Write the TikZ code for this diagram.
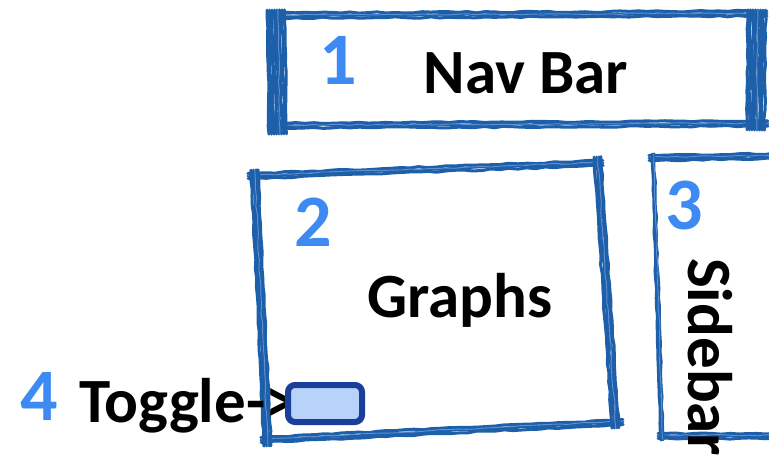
\documentclass[tikz,border=0pt]{standalone}
\usepackage{fontspec}
\setmainfont{Carlito}
\usetikzlibrary{calc,decorations.pathmorphing}

\definecolor{brushblue}{RGB}{30,95,170}
\definecolor{brushlight}{RGB}{95,145,210}
\definecolor{numblue}{RGB}{61,139,242}
\definecolor{togglefill}{RGB}{183,211,250}
\definecolor{toggleline}{RGB}{27,62,154}

\tikzset{
  brush/.style={draw=brushblue, line width=3pt, line cap=round,
    decorate, decoration={random steps, segment length=9pt, amplitude=0.7pt}},
  brushlite/.style={brush, draw=brushlight, line width=0.9pt},
  bigtext/.style={font=\bfseries\fontsize{63}{63}\selectfont, inner sep=0pt},
  numtext/.style={font=\bfseries\fontsize{74}{74}\selectfont, inner sep=0pt, text=numblue},
  lbl/.style={bigtext, text=black},
  togglebox/.style={draw=toggleline, fill=togglefill, line width=6pt,
    rounded corners=7pt, minimum width=74pt, minimum height=37pt, inner sep=0pt},
}

% one painted edge: several jittered strokes spread across the band
\newcommand\brushedge[3]{%
  \foreach \o in {#3}{%
    \draw[brush] ($(#1)!\o pt!90:(#2)$) -- ($(#2)!\o pt!-90:(#1)$);
  }%
  \draw[brushlite] ($(#1)!0.8pt!90:(#2)$) -- ($(#2)!0.8pt!-90:(#1)$);
}

\begin{document}
\begin{tikzpicture}[x=1pt, y=-1pt]
  \pgfmathsetseed{17}
  \useasboundingbox[fill=white] (0,0) rectangle (769,457);

  % nav bar frame
  \coordinate (navTL) at (277,16);
  \coordinate (navTR) at (757,14);
  \coordinate (navBR) at (756,124);
  \coordinate (navBL) at (279,126);
  \brushedge{$(navTL)+(-8,0)$}{$(navTR)+(10,0)$}{-2,0.5,3}
  \brushedge{$(navBL)+(-10,0)$}{$(navBR)+(12,0)$}{-2,0.5,3}
  \brushedge{$(navTL)+(0,-6)$}{$(navBL)+(0,8)$}{-10,-7.5,-5,-2.5,0,2.5,5,7.5}
  \brushedge{$(navTR)+(0,-4)$}{$(navBR)+(0,6)$}{-9,-6.5,-4,-1.5,1,3.5,6,8.5}

  % graphs frame
  \coordinate (grTL) at (254,176);
  \coordinate (grTR) at (597,163);
  \coordinate (grBR) at (615,422);
  \coordinate (grBL) at (267,440);
  \brushedge{$(grTL)+(-6,0)$}{$(grTR)+(6,0)$}{-2.5,0,2.5}
  \brushedge{$(grBL)+(-6,0)$}{$(grBR)+(8,0)$}{-2.5,0,2.5}
  \brushedge{$(grTL)+(0,-6)$}{$(grBL)+(0,6)$}{-3,-0.5,2,4}
  \brushedge{$(grTR)+(0,-6)$}{$(grBR)+(0,6)$}{-3,-0.5,2,4}

  % sidebar frame
  \coordinate (sbTL) at (653,158);
  \coordinate (sbTR) at (780,156);
  \coordinate (sbBR) at (780,436);
  \coordinate (sbBL) at (662,436);
  \brushedge{$(sbTL)+(-4,0)$}{sbTR}{-2.5,0,2.5}
  \brushedge{$(sbBL)+(-4,0)$}{sbBR}{-2.5,0,2.5}
  \brushedge{$(sbTL)+(0,-4)$}{$(sbBL)+(0,4)$}{-1,1}

  % numbers
  \node[numtext, anchor=base] (num1) at (338,85) {1};
  \node[numtext, anchor=base] (num2) at (313,247) {2};
  \node[numtext, anchor=base] (num3) at (684,230) {3};
  \node[numtext, anchor=base] (num4) at (39,420) {4};

  % labels
  \node[lbl, anchor=base] (navlbl) at (526,94) {Nav Bar};
  \node[lbl, anchor=base] (graphlbl) at (460,318) {Graphs};
  \node[lbl, anchor=base west, rotate=-90] (sidelbl) at (688,258) {Sidebar};
  \node[lbl, anchor=base] (togglelbl) at (188,422) {Toggle->};

  % toggle control
  \node[togglebox] (toggle) at (325,403.5) {};
\end{tikzpicture}
\end{document}
